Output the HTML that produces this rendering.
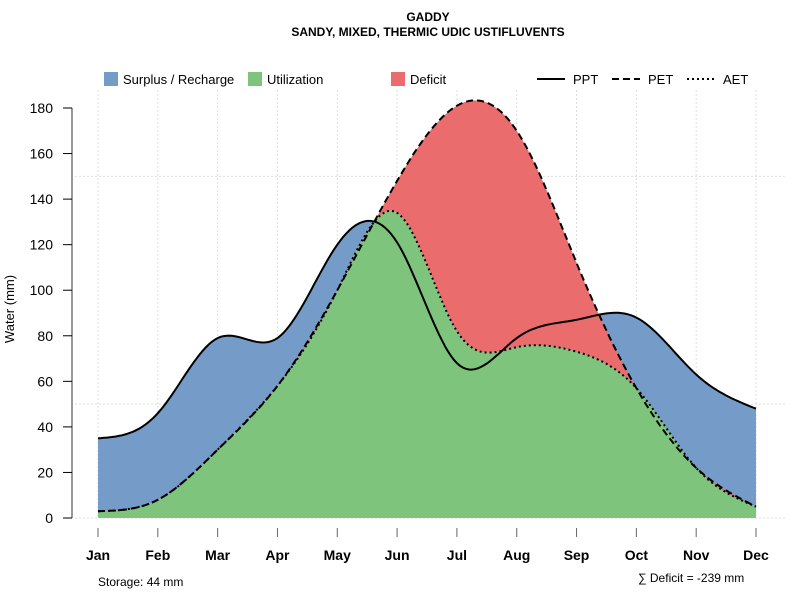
<!DOCTYPE html>
<html><head><meta charset="utf-8"><style>
body{margin:0;background:#fff}
svg text{font-family:"Liberation Sans",sans-serif}
</style></head><body>
<svg id="c" width="800" height="600" xmlns="http://www.w3.org/2000/svg">
<text x="428" y="21" text-anchor="middle" font-size="12" font-weight="bold">GADDY</text>
<text x="428" y="36" text-anchor="middle" font-size="12" font-weight="bold">SANDY, MIXED, THERMIC UDIC USTIFLUVENTS</text>
<g font-size="13">
<rect x="104" y="72" width="14" height="14" fill="#759cc8"/>
<text x="123" y="84">Surplus / Recharge</text>
<rect x="248" y="72" width="14" height="14" fill="#7fc47c"/>
<text x="267" y="84">Utilization</text>
<rect x="391" y="72" width="14" height="14" fill="#eb6c6c"/>
<text x="410" y="84">Deficit</text>
<line x1="537" y1="79" x2="565" y2="79" stroke="#000" stroke-width="2"/>
<text x="573" y="84">PPT</text>
<line x1="612" y1="79" x2="640" y2="79" stroke="#000" stroke-width="2" stroke-dasharray="7,4"/>
<text x="648" y="84">PET</text>
<line x1="687" y1="79" x2="715" y2="79" stroke="#000" stroke-width="2" stroke-dasharray="2,3"/>
<text x="723" y="84">AET</text>
</g>
<g id="plot"></g>
<text x="98" y="586" font-size="12">Storage: 44 mm</text>
<text x="638" y="582" font-size="12">∑ Deficit = -239 mm</text>
</svg>
<script>
const months=["Jan","Feb","Mar","Apr","May","Jun","Jul","Aug","Sep","Oct","Nov","Dec"];
const ppt=[35,46,79,79,120,121,68,79,87,88,63,48];
const pet=[3,8,30,58,100,148,181,170,112,57,22,5];
const aet=[3,8,30,58,100,134,82,75,73,57,22,5];
const yTicks=[0,20,40,60,80,100,120,140,160,180];
const NS="http://www.w3.org/2000/svg";
const g=document.getElementById("plot");
const xS=i=>98+i*(756-98)/11;
const yS=v=>518-v*410/180;
function mk(t,a,p){const e=document.createElementNS(NS,t);for(const k in a)e.setAttribute(k,a[k]);(p||g).appendChild(e);return e;}
function spline(ys){const n=ys.length,m=new Array(n).fill(0);
 const a=[],b=[],c=[],d=[];for(let i=0;i<n;i++){if(i==0||i==n-1){a[i]=0;b[i]=1;c[i]=0;d[i]=0;}else{a[i]=1;b[i]=4;c[i]=1;d[i]=6*(ys[i+1]-2*ys[i]+ys[i-1]);}}
 for(let i=1;i<n;i++){const w=a[i]/b[i-1];b[i]-=w*c[i-1];d[i]-=w*d[i-1];}
 m[n-1]=d[n-1]/b[n-1];for(let i=n-2;i>=0;i--)m[i]=(d[i]-c[i]*m[i+1])/b[i];
 const pts=[];for(let i=0;i<n-1;i++)for(let k=0;k<20;k++){const t=k/20;const v=(1-t)*ys[i]+t*ys[i+1]+((Math.pow(1-t,3)-(1-t))*m[i]+(Math.pow(t,3)-t)*m[i+1])/6;pts.push([i+t,v]);}
 pts.push([n-1,ys[n-1]]);return pts;}
const sP=spline(ppt),sE=spline(pet),sA=spline(aet);
const line=p=>p.map((q,i)=>(i?"L":"M")+xS(q[0]).toFixed(1)+","+yS(q[1]).toFixed(1)).join("");
const area=p=>line(p)+"L"+xS(11)+","+yS(0)+"L"+xS(0)+","+yS(0)+"Z";
months.forEach((m,i)=>{const l=mk("line",{x1:xS(i),x2:xS(i),y1:90,y2:518,stroke:"#ddd","stroke-dasharray":"2,2"});});
[50,150].forEach(v=>{const l=mk("line",{x1:75,x2:785,y1:yS(v),y2:yS(v),stroke:"#ddd","stroke-dasharray":"2,2"});});
const z=mk("line",{x1:75,x2:785,y1:yS(0),y2:yS(0),stroke:"#ddd","stroke-dasharray":"2,2"});
const b=mk("path",{d:area(sP),fill:"#759cc8"});
const rd=line(sE)+sA.slice().reverse().map(q=>"L"+xS(q[0]).toFixed(1)+","+yS(q[1]).toFixed(1)).join("")+"Z";
const r=mk("path",{d:rd,fill:"#eb6c6c"});
const gr=mk("path",{d:area(sA),fill:"#7fc47c"});
const l1=mk("path",{d:line(sP),fill:"none",stroke:"#000","stroke-width":2});
const l3=mk("path",{d:line(sA),fill:"none",stroke:"#000","stroke-width":2,"stroke-dasharray":"2,3"});
const l2=mk("path",{d:line(sE),fill:"none",stroke:"#000","stroke-width":2,"stroke-dasharray":"7,4"});
const ya=mk("line",{x1:72,x2:72,y1:yS(0),y2:yS(180),stroke:"#777","stroke-width":1.5});
yTicks.forEach(v=>{mk("line",{x1:63,x2:72,y1:yS(v),y2:yS(v),stroke:"#000"});
 const t=mk("text",{x:53,y:yS(v)+5,"text-anchor":"end","font-size":14});t.textContent=v;});
const yt=mk("text",{transform:"translate(14,309) rotate(-90)","text-anchor":"middle","font-size":13});yt.textContent="Water (mm)";
months.forEach((m,i)=>{mk("line",{x1:xS(i),x2:xS(i),y1:528,y2:537,stroke:"#666"});
 const t=mk("text",{x:xS(i),y:560,"text-anchor":"middle","font-size":14,"font-weight":"bold"});t.textContent=m;});
</script>
</body></html>
